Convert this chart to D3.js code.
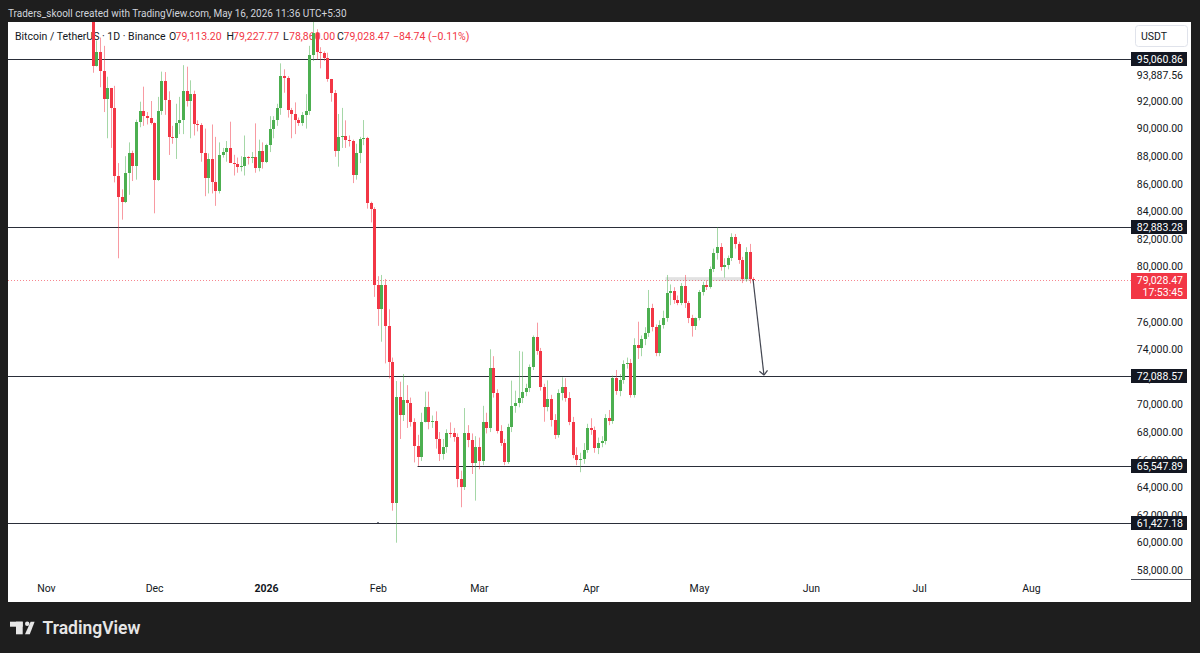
<!DOCTYPE html>
<html>
<head>
<meta charset="utf-8">
<title>BTCUSDT 1D</title>
<style>
  body { margin: 0; background: #1e1e1e; }
  text { font-family: Roboto, 'Liberation Sans', sans-serif; }
</style>
</head>
<body>
<div id="chart"></div>
<script src="https://d3js.org/d3.v7.min.js"></script>
<script>
// daily candles, first bar on startDay, one bar per day
var startDay = '2025-11-10';
var opens = [
  104700,106000,103000,101600,99700,94560,95530,94200,92150,92920,91520,86590,85070,84700,86760,88210,87290,90480,91300,90900,90800,
  90400,86300,91300,93450,92100,89400,89300,90400,90650,92700,92000,92500,90300,90250,88200,86400,87800,86150,85500,88100,88300,88600,87500,87400,87200,87300,87950,87840,87960,87170,88400,
  87600,88810,89950,90620,91470,93810,93700,91350,91060,90620,90430,90990,91300,95340,96900,95580,95460,95090,93570,92560,88400,89370,89500,89150,89100,86640,88250,89220,89300,84630,84200,
  78660,76900,78660,75690,73100,62880,70570,69240,70330,70100,68750,66990,66170,68750,69790,68750,68830,67470,66410,66940,67960,67910,67620,64570,63990,67960,67430,65730,
  66940,65900,68750,68270,72620,70810,68080,67230,65850,68390,69890,70130,70490,70930,71170,72740,74870,73880,71240,69840,70400,68880,67790,70810,71290,70450,68750,66340,65980,66050,66700,
  68270,68150,66820,67230,67350,69000,68830,71900,71000,71780,72940,73000,70690,74310,74070,74720,75160,76970,75590,73760,75760,76250,78110,78230,77580,77380,78590,77330,76250,75690,
  76250,78180,78660,78540,79800,80960,81390,79940,80110,80600,82170,81640,80480,79070,81030,79113.20
];
var highs = [
  106600,107500,105300,104000,99900,96400,96600,96000,93760,92950,93100,87500,85600,88000,89000,88400,90650,91950,93040,91200,92000,
  90450,92300,94130,94100,92700,90200,91800,92300,94600,94490,93500,92750,90600,90400,90000,88200,90300,89400,89000,88600,89100,90500,88100,87900,88000,89500,88000,88300,90380,89200,89000,
  88900,90900,90900,91800,94730,94300,93800,91500,91900,90800,91200,92500,96000,97900,97200,95900,95600,95500,93600,92800,91060,91500,90600,89500,89200,88900,89400,90620,89400,84700,84300,
  79300,79390,79100,76900,73400,71700,71650,72210,71400,70500,69000,67800,69400,70930,70930,69200,69500,68000,67500,68200,68700,68300,67900,65200,69740,68500,67900,67700,
  67600,69900,69400,74000,73500,71100,68500,67500,68600,71730,71000,73880,73830,71500,72900,75000,75930,74100,71500,71750,70700,69300,71100,71970,71900,70900,69100,66900,66500,67200,68600,
  69000,68400,67600,67700,69300,69600,72100,72500,72200,73200,73400,73300,74800,76000,75000,75600,78300,77300,75800,76100,76800,79390,78700,78500,77900,78800,79390,77500,76500,76300,
  78300,78900,79000,80000,81300,82840,81700,80600,80800,82410,82360,81800,80700,81400,81640,79227.77
];
var lows = [
  104300,102500,100800,98000,94050,94500,93000,91200,89300,88600,86100,80600,83400,84600,85200,86200,86300,90100,90200,90300,90300,
  83860,86200,91000,91000,88090,88900,87800,89600,89600,91600,89300,89500,89800,87600,85100,85300,85300,84400,85300,87900,87600,87600,86600,86800,86900,86600,87400,87500,86800,86900,87100,
  87500,88300,89300,90200,91000,92600,90800,89300,89600,90200,90200,90000,91000,94900,95000,94370,94900,93400,91950,87960,87240,88600,88600,88700,86050,86300,87500,88800,84200,83200,77800,
  75700,74550,72980,71890,62300,59980,67500,68800,68300,68400,65800,65550,65900,68700,68200,68300,66800,65900,66000,66500,67600,67300,64000,62550,63800,66900,64960,63030,
  65300,65600,67900,68000,70500,67900,67000,65600,65700,68000,69400,69800,70100,70600,70900,72500,73600,71000,68750,69500,68400,67500,67600,70300,70200,68500,66100,65600,65090,65700,66500,
  67800,66500,66400,66900,67100,68500,68600,70700,70600,71500,72600,70500,70500,73300,73500,74300,74900,75300,73500,73500,75500,76000,77200,77300,77200,77200,77000,75900,74920,75400,
  76100,77900,78300,78400,79600,80500,79700,79200,79800,80400,81300,80200,78800,78900,78780,78860
];
var closes = [
  106000,103000,101600,99700,94560,95530,94200,92150,92920,91520,86590,85070,84700,86760,88210,87290,90480,91300,90900,90800,90400,
  86300,91300,93450,92100,89400,89300,90400,90650,92700,92000,92500,90300,90250,88200,86400,87800,86150,85500,88100,88300,88600,87500,87400,87200,87300,87950,87840,87960,87170,88400,87600,
  88810,89950,90620,91470,93810,93700,91350,91060,90620,90430,90990,91300,95340,96900,95580,95460,95090,93570,92560,88400,89370,89500,89150,89100,86640,88250,89220,89300,84630,84200,78660,
  76900,78660,75690,73100,62880,70570,69240,70330,70100,68750,66990,66170,68750,69790,68750,68830,67470,66410,66940,67960,67910,67620,64570,63990,67960,67430,65730,66940,
  65900,68750,68270,72620,70810,68080,67230,65850,68390,69890,70130,70490,70930,71170,72740,74870,73880,71240,69840,70400,68880,67790,70810,71290,70450,68750,66340,65980,66050,66700,68270,
  68150,66820,67230,67350,69000,68830,71900,71000,71780,72940,73000,70690,74310,74070,74720,75160,76970,75590,73760,75760,76250,78110,78230,77580,77380,78590,77330,76250,75690,76250,
  78180,78660,78540,79800,80960,81390,79940,80110,80600,82170,81640,80480,79070,81030,79113.20,79028.47
];

// drawings
var levels = [95060.86, 82883.28, 72088.57, 61427.18];
var supportLevel = 65547.89, supportFrom = '2026-02-12';
var boxTop = 79230, boxBottom = 78965, boxFrom = '2026-04-22', boxTo = '2026-05-15';
var arrowFrom = ['2026-05-16', 79028.47], arrowTo = ['2026-05-19', 72130];

// axes
var priceTicks = [92000, 90000, 88000, 86000, 84000, 82000, 80000, 76000, 74000, 70000, 68000, 66000, 64000, 62000, 60000, 58000];
var extraPrices = [93887.56, 71907.95];
var monthDays = ['2025-11-01','2025-12-01','2026-01-01','2026-02-01','2026-03-01','2026-04-01','2026-05-01','2026-06-01','2026-07-01','2026-08-01'];
var monthLabels = ['Nov','Dec','2026','Feb','Mar','Apr','May','Jun','Jul','Aug'];
var lastPrice = 79028.47, countdown = '17:53:45';

var upColor = '#4caf50', downColor = '#f23645';
var fmt = d3.format(',.2f');
var parseDay = d3.utcParse('%Y-%m-%d');

var W = 1200, H = 653;
var plot = {left: 8, right: 1131, top: 22, bottom: 579};

var svg = d3.select('#chart').append('svg')
  .attr('width', W).attr('height', H);

svg.append('rect').attr('width', W).attr('height', H).attr('fill', '#1e1e1e');
svg.append('rect')
  .attr('x', 8).attr('y', 22).attr('width', 1183).attr('height', 580)
  .attr('fill', '#ffffff');

svg.append('text')
  .attr('x', 8).attr('y', 17)
  .attr('fill', '#d1d4dc').attr('font-size', 10)
  .text('Traders_skooll created with TradingView.com, May 16, 2026 11:36 UTC+5:30');

var x = d3.scaleUtc()
  .domain([parseDay('2026-01-01'), parseDay('2026-05-01')])
  .range([266, 699]);
var y = d3.scaleLinear()
  .domain([58000, 95060.86])
  .range([570, 58.8]);

var t0 = parseDay(startDay);
var candles = opens.map(function(o, i) {
  return {date: d3.utcDay.offset(t0, i), o: o, h: highs[i], l: lows[i], c: closes[i]};
});

svg.append('clipPath').attr('id', 'plotclip')
  .append('rect')
  .attr('x', plot.left).attr('y', plot.top)
  .attr('width', plot.right - plot.left).attr('height', plot.bottom - plot.top);

// legend (drawn under the bars)
var legend = svg.append('text').attr('y', 39.5).attr('font-size', 10.5).attr('fill', '#131722');
legend.append('tspan').attr('x', 15).text('Bitcoin / TetherUS \u00b7 1D \u00b7 Binance');
legend.append('tspan').attr('x', 169).text('O');
legend.append('tspan').attr('x', 175.5).attr('fill', downColor).text('79,113.20');
legend.append('tspan').attr('x', 226.5).text('H');
legend.append('tspan').attr('x', 233).attr('fill', downColor).text('79,227.77');
legend.append('tspan').attr('x', 283).text('L');
legend.append('tspan').attr('x', 289).attr('fill', downColor).text('78,860.00');
legend.append('tspan').attr('x', 337).text('C');
legend.append('tspan').attr('x', 343.5).attr('fill', downColor).text('79,028.47');
legend.append('tspan').attr('x', 393).attr('fill', downColor).text('\u221284.74 (\u22120.11%)');

var g = svg.append('g').attr('clip-path', 'url(#plotclip)');

// highlighted zone
g.append('rect')
  .attr('x', x(parseDay(boxFrom)) - 1)
  .attr('y', y(boxTop))
  .attr('width', x(parseDay(boxTo)) - x(parseDay(boxFrom)) + 2)
  .attr('height', y(boxBottom) - y(boxTop))
  .attr('fill', '#d6d6d6').attr('opacity', 0.7);

// current price dotted line
g.append('line')
  .attr('x1', plot.left).attr('x2', plot.right)
  .attr('y1', Math.round(y(lastPrice)) + 0.5).attr('y2', Math.round(y(lastPrice)) + 0.5)
  .attr('stroke', downColor).attr('stroke-opacity', 0.6)
  .attr('stroke-dasharray', '1,2');

// horizontal levels
g.selectAll('line.level')
  .data(levels).enter().append('line')
  .attr('class', 'level')
  .attr('x1', plot.left).attr('x2', plot.right)
  .attr('y1', function(d) { return Math.round(y(d)) + 0.5; })
  .attr('y2', function(d) { return Math.round(y(d)) + 0.5; })
  .attr('stroke', '#2a2e39').attr('stroke-width', 1);

g.append('line')
  .attr('x1', x(parseDay(supportFrom))).attr('x2', plot.right)
  .attr('y1', Math.round(y(supportLevel)) + 0.5).attr('y2', Math.round(y(supportLevel)) + 0.5)
  .attr('stroke', '#2a2e39').attr('stroke-width', 1);

g.append('rect')
  .attr('x', Math.round(x(parseDay('2026-02-01'))) - 1).attr('y', Math.round(y(61500)))
  .attr('width', 2).attr('height', 1).attr('fill', '#787b86');

// candles
var bars = g.selectAll('g.candle')
  .data(candles).enter().append('g')
  .attr('class', 'candle');

bars.append('line')
  .attr('x1', function(d) { return Math.round(x(d.date)) + 0.5; })
  .attr('x2', function(d) { return Math.round(x(d.date)) + 0.5; })
  .attr('y1', function(d) { return y(d.h); })
  .attr('y2', function(d) { return y(d.l); })
  .attr('stroke', function(d) { return d.c >= d.o ? upColor : downColor; })
  .attr('stroke-opacity', 0.5);

bars.append('rect')
  .attr('x', function(d) { return Math.round(x(d.date)) - 1; })
  .attr('width', 3)
  .attr('y', function(d) { return Math.round(y(Math.max(d.o, d.c))); })
  .attr('height', function(d) {
    return Math.max(1, Math.round(y(Math.min(d.o, d.c))) - Math.round(y(Math.max(d.o, d.c))));
  })
  .attr('fill', function(d) { return d.c >= d.o ? upColor : downColor; });

// projection arrow
var ax0 = x(parseDay(arrowFrom[0])), ay0 = y(arrowFrom[1]);
var ax1 = x(parseDay(arrowTo[0])), ay1 = y(arrowTo[1]);
var ang = Math.atan2(ay1 - ay0, ax1 - ax0);
g.append('line')
  .attr('x1', ax0).attr('y1', ay0).attr('x2', ax1).attr('y2', ay1)
  .attr('stroke', '#434651').attr('stroke-width', 1.2);
[-0.75, 0.75].forEach(function(a) {
  g.append('line')
    .attr('x1', ax1).attr('y1', ay1)
    .attr('x2', ax1 - 6 * Math.cos(ang + a)).attr('y2', ay1 - 6 * Math.sin(ang + a))
    .attr('stroke', '#434651').attr('stroke-width', 1.2);
});

// price scale
var yAxis = d3.axisRight(y).tickValues(priceTicks).tickFormat(fmt).tickSize(0).tickPadding(0);
var gy = svg.append('g').attr('transform', 'translate(1183,0)').call(yAxis);
gy.select('.domain').remove();
gy.selectAll('text')
  .attr('text-anchor', 'end').attr('fill', '#131722')
  .attr('font-size', 10.5).attr('font-family', 'Roboto, sans-serif');

svg.selectAll('text.extra')
  .data(extraPrices).enter().append('text')
  .attr('class', 'extra')
  .attr('x', 1183).attr('y', function(d) { return y(d) + 3.8; })
  .attr('text-anchor', 'end').attr('font-size', 10.5).attr('fill', '#131722')
  .text(fmt);

var levelTags = svg.selectAll('g.tag')
  .data(levels.concat([supportLevel])).enter().append('g')
  .attr('class', 'tag')
  .attr('transform', function(d) { return 'translate(0,' + Math.round(y(d)) + ')'; });
levelTags.append('rect')
  .attr('x', 1131).attr('y', -7).attr('width', 56).attr('height', 14)
  .attr('fill', '#131722');
levelTags.append('text')
  .attr('x', 1183).attr('y', 4)
  .attr('text-anchor', 'end').attr('font-size', 10.5).attr('fill', '#ffffff')
  .text(fmt);

var ly = Math.round(y(lastPrice));
svg.append('rect')
  .attr('x', 1131).attr('y', ly - 7).attr('width', 56).attr('height', 26)
  .attr('fill', downColor);
svg.append('text')
  .attr('x', 1183).attr('y', ly + 3.5)
  .attr('text-anchor', 'end').attr('font-size', 10.5).attr('fill', '#ffffff')
  .text(fmt(lastPrice));
svg.append('text')
  .attr('x', 1183).attr('y', ly + 16)
  .attr('text-anchor', 'end').attr('font-size', 10.5).attr('fill', '#ffffff')
  .text(countdown);

svg.append('rect')
  .attr('x', 1135.5).attr('y', 25.5).attr('width', 52).attr('height', 21).attr('rx', 3)
  .attr('fill', '#ffffff').attr('stroke', '#e0e3eb');
svg.append('text')
  .attr('x', 1141).attr('y', 40).attr('font-size', 10.5).attr('fill', '#131722')
  .text('USDT');

svg.append('line')
  .attr('x1', 1131).attr('x2', 1191).attr('y1', 579.5).attr('y2', 579.5)
  .attr('stroke', '#50535e');

// time scale
var xAxis = d3.axisBottom(x)
  .tickValues(monthDays.map(parseDay))
  .tickFormat(function(d, i) { return monthLabels[i]; })
  .tickSize(0).tickPadding(0);
var gx = svg.append('g').attr('transform', 'translate(0,585)').call(xAxis);
gx.select('.domain').remove();
gx.selectAll('text')
  .attr('fill', '#131722').attr('font-size', 10.5).attr('font-family', 'Roboto, sans-serif')
  .attr('font-weight', function(d, i) { return monthLabels[i] === '2026' ? 'bold' : 'normal'; });

// TradingView mark
var logo = svg.append('g').attr('fill', '#e6e6e6');
logo.append('rect').attr('x', 10).attr('y', 621.7).attr('width', 12.7).attr('height', 5);
logo.append('rect').attr('x', 16).attr('y', 621.7).attr('width', 6.7).attr('height', 12.6);
logo.append('circle').attr('cx', 27.2).attr('cy', 623.8).attr('r', 2.2);
logo.append('path').attr('d', 'M30.6,621.7 L34.6,621.7 L29.8,634.3 L25,634.3 Z');
logo.append('text')
  .attr('x', 42.5).attr('y', 634.3)
  .attr('font-size', 17.5).attr('font-weight', 600).attr('font-family', 'Inter, Roboto, sans-serif')
  .text('TradingView');
</script>
</body>
</html>
